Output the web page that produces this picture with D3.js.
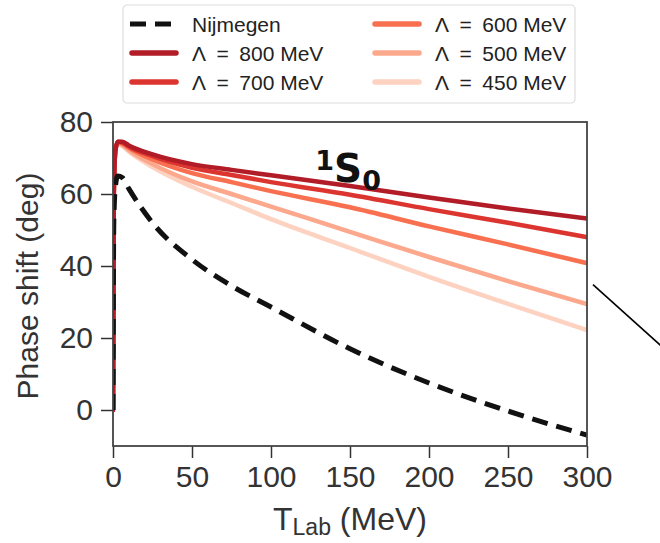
<!DOCTYPE html>
<html>
<head>
<meta charset="utf-8">
<script src="https://cdn.jsdelivr.net/npm/d3@7"></script>
<style>
  html, body { margin: 0; padding: 0; background: #fff; }
  svg { display: block; }
</style>
</head>
<body>
<svg id="chart" width="660" height="543"></svg>
<script>
// ---- data ----
const tLab = [0, 0.5, 1.5, 3, 6, 10, 25, 50, 75, 100, 150, 200, 250, 300];
const nijmegen = [0, 52, 62, 65, 64.5, 61.5, 52, 41.8, 34.5, 28.6, 17, 7.5, -0.3, -7];
const lambda800 = [0, 60, 72, 74.5, 74.5, 73.5, 71, 68.3, 66.7, 65.2, 62.2, 59, 56, 53.2];
const lambda700 = [0, 60, 72, 74.5, 74.3, 73.2, 70.5, 67.3, 65.3, 63.3, 59.8, 55.8, 52, 48];
const lambda600 = [0, 60, 72, 74.4, 74, 72.8, 69.6, 65.8, 63.3, 60.8, 56.3, 51, 46, 40.8];
const lambda500 = [0, 60, 72, 74.2, 73.6, 72.2, 68.3, 63.5, 60, 56.5, 49.5, 42.5, 35.8, 29.4];
const lambda450 = [0, 60, 72, 74, 73.3, 71.8, 67.5, 62, 57.5, 53, 45, 37, 29.5, 22.2];
const seriesLabels = ["Nijmegen", "\u039B\u2002=\u2002800 MeV", "\u039B\u2002=\u2002700 MeV", "\u039B\u2002=\u2002600 MeV", "\u039B\u2002=\u2002500 MeV", "\u039B\u2002=\u2002450 MeV"];
const seriesColors = ["#111111", "#b11c27", "#dc3530", "#f8704f", "#fca88d", "#fdd2c1"];
const xTicks = [0, 50, 100, 150, 200, 250, 300];
const yTicks = [0, 20, 40, 60, 80];

const allSeries = [nijmegen, lambda800, lambda700, lambda600, lambda500, lambda450];

// ---- layout ----
const svg = d3.select("#chart");
const m = { left: 113, right: 587, top: 122, bottom: 446 };
const x = d3.scaleLinear().domain([0, 300]).range([m.left, m.right]);
const y = d3.scaleLinear().domain([-10, 80]).range([m.bottom, m.top]);
const font = "'Liberation Sans', Arial, Helvetica, sans-serif";

svg.append("defs").append("clipPath").attr("id", "clip")
  .append("rect").attr("x", m.left).attr("y", m.top)
  .attr("width", m.right - m.left).attr("height", m.bottom - m.top);

const line = d3.line().x(d => x(d[0])).y(d => y(d[1])).curve(d3.curveMonotoneX);

const g = svg.append("g").attr("clip-path", "url(#clip)");
// red curves, drawn from lightest to darkest
for (let i = allSeries.length - 1; i >= 1; i--) {
  g.append("path")
    .datum(tLab.map((t, k) => [t, allSeries[i][k]]))
    .attr("d", line)
    .attr("fill", "none")
    .attr("stroke", seriesColors[i])
    .attr("stroke-width", 4.5)
    .attr("stroke-linecap", "round")
    .attr("stroke-linejoin", "round");
}
// Nijmegen dashed on top
g.append("path")
  .datum(tLab.map((t, k) => [t, nijmegen[k]]))
  .attr("d", line)
  .attr("fill", "none")
  .attr("stroke", seriesColors[0])
  .attr("stroke-width", 5)
  .attr("stroke-dasharray", "16,9");

// ---- axes ----
const xAxis = svg.append("g").attr("transform", `translate(0,${m.bottom})`)
  .call(d3.axisBottom(x).tickValues(xTicks).tickSize(12).tickPadding(8).tickFormat(d3.format("d")));
const yAxis = svg.append("g").attr("transform", `translate(${m.left},0)`)
  .call(d3.axisLeft(y).tickValues(yTicks).tickSize(12).tickPadding(8).tickFormat(d3.format("d")));
[xAxis, yAxis].forEach(a => {
  a.select(".domain").remove();
  a.selectAll(".tick line").attr("stroke", "#333").attr("stroke-width", 1.5);
  a.selectAll(".tick text").attr("fill", "#333").style("font-family", font).style("font-size", "30px");
});

// frame
svg.append("rect")
  .attr("x", m.left).attr("y", m.top)
  .attr("width", m.right - m.left).attr("height", m.bottom - m.top)
  .attr("fill", "none").attr("stroke", "#444").attr("stroke-width", 1.8);

// axis labels
const xl = svg.append("text")
  .attr("x", (m.left + m.right) / 2).attr("y", 530)
  .attr("text-anchor", "middle")
  .attr("fill", "#333")
  .style("font-family", font).style("font-size", "32px");
xl.append("tspan").text("T");
xl.append("tspan").attr("dy", 5).style("font-size", "23px").text("Lab");
xl.append("tspan").attr("dy", -5).text(" (MeV)");

svg.append("text")
  .attr("transform", `translate(38,${(m.top + m.bottom) / 2 + 2}) rotate(-90)`)
  .attr("text-anchor", "middle")
  .attr("fill", "#333")
  .style("font-family", font).style("font-size", "30px")
  .text("Phase shift (deg)");

// 1S0 label
const lab = svg.append("text")
  .attr("x", x(128)).attr("y", y(63.2))
  .attr("fill", "#111")
  .style("font-family", "'DejaVu Sans', sans-serif").style("font-weight", "bold").style("font-size", "39px");
lab.append("tspan").attr("dy", -12).style("font-size", "27px").text("1");
lab.append("tspan").attr("dy", 12).text("S");
lab.append("tspan").attr("dy", 8).style("font-size", "27px").text("0");

// ---- legend ----
const leg = svg.append("g");
leg.append("rect")
  .attr("x", 123).attr("y", 5).attr("width", 452).attr("height", 98)
  .attr("rx", 4).attr("fill", "#fff").attr("stroke", "#ddd").attr("stroke-width", 1.2);
const colX = [130, 373];
const rowY = [24, 53, 82];
seriesLabels.forEach((lbl, i) => {
  const col = i < 3 ? 0 : 1;
  const row = i % 3;
  const lx = colX[col], ly = rowY[row];
  leg.append("line")
    .attr("x1", lx + (i === 0 ? 0 : 2)).attr("x2", lx + (i === 0 ? 48 : 46))
    .attr("y1", ly).attr("y2", ly)
    .attr("stroke", seriesColors[i])
    .attr("stroke-width", i === 0 ? 5 : 5.5)
    .attr("stroke-linecap", i === 0 ? "butt" : "round")
    .attr("stroke-dasharray", i === 0 ? "16,9" : null);
  leg.append("text")
    .attr("x", lx + 62).attr("y", ly + 7.5)
    .attr("fill", "#222")
    .style("font-family", font).style("font-size", "21px")
    .text(lbl);
});

// decorative connector line at right (part of a larger figure)
svg.append("line")
  .attr("x1", m.right + 6).attr("y1", y(34.8))
  .attr("x2", m.right + 75).attr("y2", y(17.6))
  .attr("stroke", "#000").attr("stroke-width", 1.6);
</script>
</body>
</html>
